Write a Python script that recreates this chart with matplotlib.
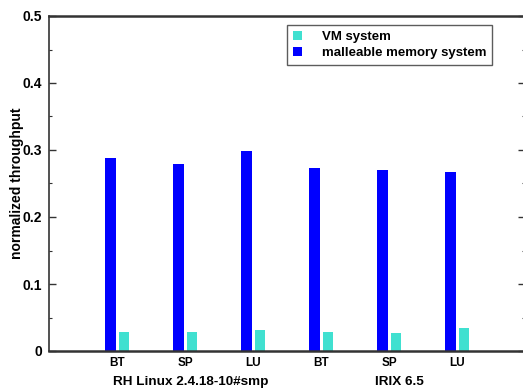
import numpy as np
import matplotlib.pyplot as plt
from matplotlib.ticker import MultipleLocator, FuncFormatter

plt.rcParams['font.family'] = ['Liberation Sans', 'DejaVu Sans']
plt.rcParams['font.weight'] = 'bold'

benchmarks = ['BT', 'SP', 'LU', 'BT', 'SP', 'LU']
platforms = ['RH Linux 2.4.18-10#smp', 'IRIX 6.5']
malleable = [0.288, 0.279, 0.299, 0.273, 0.270, 0.267]
vm = [0.029, 0.029, 0.031, 0.029, 0.027, 0.034]

fig = plt.figure(figsize=(5.23, 3.88), dpi=100)
ax = fig.add_axes([49 / 523, 37 / 388, 476 / 523, 335 / 388])

x = np.arange(1, len(benchmarks) + 1)
w = 0.155
ax.bar(x - 0.098, malleable, w, color='#0000ff', label='malleable memory system', zorder=2)
ax.bar(x + 0.1, vm, w, color='#40e0d0', label='VM system', zorder=2)

ax.set_xlim(0, 7)
ax.set_ylim(0, 0.5)
ax.set_xticks(x)
ax.set_xticklabels(benchmarks, fontsize=8.5, fontweight='bold')
ax.tick_params(axis='x', length=0, pad=4)

ax.yaxis.set_major_locator(MultipleLocator(0.1))
ax.yaxis.set_minor_locator(MultipleLocator(0.05))
ax.yaxis.set_major_formatter(FuncFormatter(lambda v, _: '0' if abs(v) < 1e-9 else f'{v:.1f}'))
ax.tick_params(axis='y', which='major', direction='in', length=5, width=1,
               right=True, color='#333333', pad=5, labelsize=10)
ax.tick_params(axis='y', which='minor', direction='in', length=2.5, width=0.8,
               right=True, color='#333333')

for side in ['left', 'top', 'bottom', 'right']:
    ax.spines[side].set_color('#333333')
    ax.spines[side].set_linewidth(1.8)
ax.spines['left'].set_linewidth(1.2)

ax.set_ylabel('normalized throughput', fontsize=10, fontweight='bold')
ax.yaxis.set_label_coords(-0.053, 0.5)

# platform names under each group of benchmarks
ax.text(2.09, -0.047, platforms[0], ha='center', va='center',
        fontsize=9.7, fontweight='bold', clip_on=False)
ax.text(5.16, -0.047, platforms[1], ha='center', va='center',
        fontsize=9.7, fontweight='bold', clip_on=False)

handles, labels = ax.get_legend_handles_labels()
leg = ax.legend(handles[::-1], labels[::-1], loc='upper left',
                bbox_to_anchor=(238 / 476, 326 / 335), borderaxespad=0,
                prop={'weight': 'bold', 'size': 9.5},
                frameon=True, fancybox=False, edgecolor='#333333',
                handlelength=0.7, handleheight=0.7, handletextpad=1.5,
                borderpad=0.45, labelspacing=0.3)
leg.get_frame().set_linewidth(1.0)

fig.savefig('out.png', dpi=100)
